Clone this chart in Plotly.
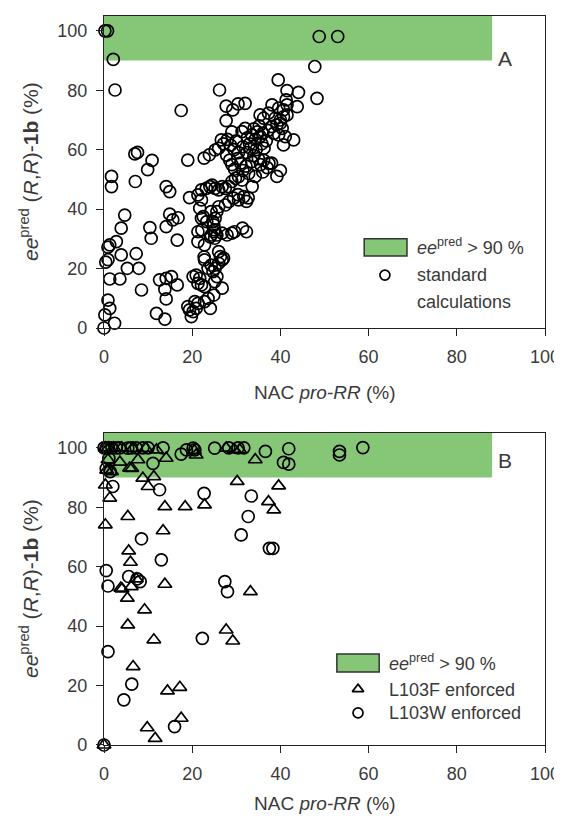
import plotly.graph_objects as go

# ---------------- Panel A: standard calculations ----------------
a_x = [0.2, 0.8, 2.1, 2.5,
       1.7, 1.7, 7.0, 7.6, 9.9, 10.9, 7.1,
       4.7, 3.9, 2.8, 1.3, 0.9, 0.9, 0.4, 3.9, 7.3, 5.3, 7.9, 1.3, 3.6, 8.5, 0.9, 1.3, 0.2, 2.4, 0.0,
       14.1, 14.9, 19.4, 10.4, 10.7, 14.9, 15.6, 16.8, 14.1, 16.6,
       12.6, 14.1, 15.3, 16.6, 13.8, 14.1, 11.9, 13.8,
       17.5, 19.0, 22.7, 23.9,
       20.2, 20.9, 21.7, 21.3, 22.8, 22.1,
       19.0, 19.4, 20.2, 19.8, 20.9, 21.3, 20.6, 23.6, 22.8, 22.7,
       22.8, 24.3, 24.7, 23.6, 25.1,
       26.0, 26.4, 26.8, 26.0, 27.1, 25.2, 25.6, 26.8, 24.9, 24.1,
       21.3, 22.1, 23.2, 24.0, 22.1, 21.7, 22.1, 21.3, 21.3, 24.3, 24.7, 25.1, 25.1, 24.3, 22.2, 22.8, 23.3, 22.5,
       24.5, 25.2, 26.0, 26.8, 27.5, 28.3, 29.0, 29.8, 30.5, 31.3, 33.6, 31.7, 30.5, 29.4, 28.3, 27.5, 26.0,
       25.6, 25.2, 24.9, 24.9, 24.1, 25.6, 26.8, 27.9, 29.0, 31.4, 30.4, 32.3, 32.7, 29.6, 32.3,
       26.6, 26.0, 25.2, 27.1, 27.8, 28.5, 29.0, 29.6, 30.3, 31.0, 31.5, 32.2, 32.8, 33.5, 34.0, 34.5,
       35.0, 35.5, 36.2, 37.0, 38.0, 39.2, 40.0, 36.0, 34.3, 37.4,
       31.3, 32.0, 32.5, 33.0, 33.5, 34.0, 34.3, 34.8, 35.2, 35.4, 35.8, 36.0, 36.3, 36.8, 37.2, 33.2,
       32.4, 31.5, 30.5, 29.5, 28.7, 28.0, 29.0, 30.0,
       35.4, 36.2, 37.3, 38.8, 40.0, 40.7, 41.5, 38.1, 39.6, 40.7, 41.5, 38.1, 39.2, 40.0, 40.4, 38.5,
       39.6, 41.1, 43.0, 40.7, 41.5, 44.1, 41.3, 43.8, 48.3, 39.5, 47.8, 27.7, 29.2, 30.4, 32.0, 27.7,
       26.2, 48.8, 53.0]
a_y = [100, 100, 90.4, 80.1,
       51.0, 47.6, 58.6, 59.1, 53.3, 56.4, 49.3,
       38.0, 33.6, 29.1, 28.0, 27.2, 23.0, 22.2, 24.6, 25.0, 20.1, 20.1, 16.5, 16.5, 12.8, 9.4, 6.6, 4.4, 1.6, 0.0,
       47.6, 45.9, 43.9, 33.8, 30.2, 38.3, 36.4, 37.1, 34.1, 29.6,
       16.2, 16.7, 17.3, 14.5, 13.0, 9.8, 4.9, 3.0,
       73.2, 56.5, 57.2, 58.3,
       17.3, 17.8, 16.7, 15.0, 13.9, 14.5,
       7.2, 6.1, 5.5, 3.8, 6.6, 8.3, 8.9, 10.0, 8.9, 23.9,
       22.9, 21.2, 19.0, 20.1, 15.6,
       25.7, 24.0, 22.9, 21.8, 23.5, 20.1, 17.3, 13.4, 11.1, 6.6,
       44.8, 46.5, 47.0, 47.6, 43.1, 40.3, 36.9, 32.4, 29.1, 39.2, 35.8, 33.0, 30.2, 31.3, 33.0, 28.0, 35.8, 37.5,
       48.1, 47.0, 46.5, 47.6, 47.0, 47.6, 49.3, 50.4, 50.9, 49.8, 47.6, 44.2, 43.1, 43.7, 42.5, 41.4, 40.8,
       39.2, 36.9, 34.7, 32.4, 30.7, 31.3, 31.9, 31.3, 31.9, 33.6, 44.9, 42.6, 43.8, 32.4, 32.4,
       63.3, 60.5, 59.9, 62.0, 58.2, 56.5, 55.0, 53.5, 57.0, 55.5, 53.0, 54.5, 52.0, 56.0, 58.0, 60.0,
       57.0, 55.0, 56.5, 54.0, 55.5, 51.0, 53.0, 52.5, 51.0, 55.4,
       66.1, 67.2, 64.0, 62.0, 65.0, 67.0, 63.5, 66.0, 68.0, 64.5, 62.0, 65.5, 60.5, 63.0, 66.5, 60.5,
       59.0, 61.0, 59.0, 60.0, 61.5, 63.5, 66.0, 63.0,
       71.7, 70.6, 72.3, 70.6, 70.0, 71.1, 71.7, 75.1, 74.0, 73.4, 75.1, 67.8, 68.4, 68.9, 67.2, 65.5,
       65.0, 64.4, 63.3, 61.6, 79.9, 79.3, 76.8, 74.5, 77.3, 83.5, 88.0, 74.7, 73.4, 75.4, 75.6, 69.8,
       80.1, 98.1, 98.1]

# ---------------- Panel B: L103F enforced (triangles) ----------------
f_x = [0.3, 1.0, 2.2, 4.0, 6.5, 9.5, 11.9, 20.5, 27.7, 29.5, 30.8,
       0.9, 1.7, 0.6, 3.6, 5.8, 7.7, 6.3, 14.1, 20.9, 34.3,
       0.3, 1.3, 0.3, 5.4, 8.8, 10.0, 11.3, 13.8, 18.4, 22.8, 30.2, 39.6, 37.3, 38.5,
       13.4, 5.6, 6.0, 3.8, 4.1, 6.2, 7.3, 5.3, 13.8, 9.2, 5.4, 11.3, 6.6, 14.4, 17.2, 17.5,
       9.8, 11.6, 0.0, 33.2, 27.7, 29.2]
f_y = [100, 100, 100, 100, 99.8, 99.8, 99.3, 99.0, 99.9, 99.5, 99.3,
       96.0, 92.0, 92.5, 95.2, 93.2, 96.0, 93.1, 96.5, 97.6, 96.0,
       87.5, 83.1, 74.1, 76.9, 89.8, 87.0, 90.3, 80.2, 80.2, 80.8, 88.7, 87.2, 81.9, 79.1,
       72.1, 65.3, 61.5, 52.8, 52.5, 53.3, 55.9, 49.4, 54.1, 45.5, 40.4, 35.4, 26.4, 18.2, 19.4, 9.0,
       5.8, 2.2, 0.0, 51.6, 38.7, 35.0]

# ---------------- Panel B: L103W enforced (circles) ----------------
w_x = [0.0, 0.5, 1.0, 1.8, 2.8, 3.6, 5.4, 6.2, 7.3, 8.8, 10.0, 13.4, 17.5, 18.7, 20.2, 20.6,
       25.1, 28.3, 30.4, 31.7, 36.6, 41.9, 40.7, 41.9, 53.4, 53.4, 58.7, 1.1, 1.4, 11.1, 0.5,
       2.0, 12.6, 22.7, 33.4, 32.7, 31.1, 37.5, 38.3, 8.5, 13.0, 0.5, 0.9, 5.6, 7.5, 8.2,
       27.4, 28.0, 22.3, 0.9, 6.3, 4.5, 16.0, 0.0]
w_y = [100, 100, 100, 100, 100, 100, 99.9, 100, 100, 100, 100, 100, 97.9, 99.3, 99.9, 99.3,
       99.9, 100, 100, 100, 98.8, 99.7, 95.1, 94.5, 98.8, 97.6, 100.1, 96.5, 92.0, 94.8, 93.0,
       87.0, 85.9, 84.7, 83.8, 76.9, 70.7, 66.2, 66.2, 69.4, 62.3, 58.7, 53.5, 56.7, 55.9, 55.0,
       55.0, 51.6, 35.9, 31.4, 20.5, 15.2, 6.2, 0.0]

ticks = [0, 20, 40, 60, 80, 100]
threshold = 90
green_end = 88

GREEN = "#86c777"
TXT = "#3a3a3a"
FONT = "Liberation Sans, Arial, sans-serif"

circle = dict(symbol="circle-open", size=12, color="black", line=dict(width=1.7, color="black"))
tri = dict(symbol="triangle-up-open", size=12, color="black", line=dict(width=1.7, color="black"))

fig = go.Figure()
fig.add_trace(go.Scatter(x=a_x, y=a_y, mode="markers", marker=circle, xaxis="x", yaxis="y",
                         cliponaxis=False, showlegend=False))
fig.add_trace(go.Scatter(x=f_x, y=f_y, mode="markers", marker=tri, xaxis="x2", yaxis="y2",
                         cliponaxis=False, showlegend=False))
fig.add_trace(go.Scatter(x=w_x, y=w_y, mode="markers", marker=circle, xaxis="x2", yaxis="y2",
                         cliponaxis=False, showlegend=False))

# manual legends (marker glyphs)
small_c = dict(symbol="circle-open", size=10, color="black", line=dict(width=1.7, color="black"))
small_t = dict(symbol="triangle-up-open", size=10, color="black", line=dict(width=1.7, color="black"))
fig.add_trace(go.Scatter(x=[63.7], y=[17.8], mode="markers", marker=small_c, xaxis="x", yaxis="y",
                         showlegend=False, hoverinfo="skip"))
fig.add_trace(go.Scatter(x=[57.6], y=[18.8], mode="markers", marker=small_t, xaxis="x2", yaxis="y2",
                         showlegend=False, hoverinfo="skip"))
fig.add_trace(go.Scatter(x=[57.6], y=[10.8], mode="markers", marker=small_c, xaxis="x2", yaxis="y2",
                         showlegend=False, hoverinfo="skip"))

shapes = [
    dict(type="rect", xref="x", yref="y", x0=0, x1=green_end, y0=threshold, y1=105,
         fillcolor=GREEN, line=dict(width=0), layer="below"),
    dict(type="rect", xref="x2", yref="y2", x0=0, x1=green_end, y0=threshold, y1=105,
         fillcolor=GREEN, line=dict(width=0), layer="below"),
    dict(type="rect", xref="x", yref="y", x0=59.0, x1=68.7, y0=24.2, y1=30.0,
         fillcolor=GREEN, line=dict(width=1.5, color="#333333")),
    dict(type="rect", xref="x2", yref="y2", x0=52.8, x1=62.4, y0=24.6, y1=30.6,
         fillcolor=GREEN, line=dict(width=1.5, color="#333333")),
]

lf = dict(family=FONT, size=18, color=TXT)
annotations = [
    dict(xref="x", yref="y", x=70.5, y=27.3, xanchor="left", yanchor="middle", showarrow=False,
         text="<i>ee</i><sup>pred</sup> &gt; 90 %", font=lf),
    dict(xref="x", yref="y", x=70.5, y=17.8, xanchor="left", yanchor="middle", showarrow=False,
         text="standard", font=lf),
    dict(xref="x", yref="y", x=70.5, y=8.8, xanchor="left", yanchor="middle", showarrow=False,
         text="calculations", font=lf),
    dict(xref="x2", yref="y2", x=64.2, y=27.9, xanchor="left", yanchor="middle", showarrow=False,
         text="<i>ee</i><sup>pred</sup> &gt; 90 %", font=lf),
    dict(xref="x2", yref="y2", x=64.2, y=18.5, xanchor="left", yanchor="middle", showarrow=False,
         text="L103F enforced", font=lf),
    dict(xref="x2", yref="y2", x=64.2, y=10.8, xanchor="left", yanchor="middle", showarrow=False,
         text="L103W enforced", font=lf),
    # panel letters
    dict(xref="paper", yref="paper", x=0.930, y=0.960, showarrow=False, text="A",
         font=dict(family=FONT, size=21, color=TXT)),
    dict(xref="paper", yref="paper", x=0.930, y=0.390, showarrow=False, text="B",
         font=dict(family=FONT, size=21, color=TXT)),
]

ytitle = "<i>ee</i><sup>pred</sup> (<i>R</i>,<i>R</i>)-<b>1b</b> (%)"
xtitle = "NAC <i>pro-RR</i> (%)"
tf = dict(family=FONT, size=19, color=TXT)
tfy = dict(family=FONT, size=21, color=TXT)
for yc in (0.786, 0.214):
    annotations.append(dict(xref="paper", yref="paper", x=-0.170, y=yc, textangle=-90,
                            showarrow=False, text=ytitle, font=tfy, xanchor="center", yanchor="middle"))
for yc in (0.483, -0.0796):
    annotations.append(dict(xref="paper", yref="paper", x=0.5, y=yc, showarrow=False,
                            text=xtitle, font=tf, xanchor="center", yanchor="middle"))

axis_common = dict(range=[0, 100], tickvals=ticks, ticks="outside", ticklen=7, tickwidth=1.3,
                   tickcolor="#222", showline=True, linecolor="#222", linewidth=1.4, mirror=True,
                   showgrid=False, zeroline=False, automargin=False, ticklabelstandoff=5,
                   tickfont=dict(family=FONT, size=18, color=TXT))
yaxis_common = dict(axis_common)
yaxis_common["range"] = [0, 105]
yaxis_common["ticklabelstandoff"] = 5

# the page body adds an 8 px offset, compensated in the margins
fig.update_layout(
    width=562, height=825,
    margin=dict(l=96, r=25, t=8, b=88),
    paper_bgcolor="white", plot_bgcolor="white",
    showlegend=False,
    xaxis=dict(axis_common, domain=[0, 1], anchor="y"),
    yaxis=dict(yaxis_common, domain=[0.572, 1], anchor="x"),
    xaxis2=dict(axis_common, domain=[0, 1], anchor="y2"),
    yaxis2=dict(yaxis_common, domain=[0, 0.428], anchor="x2"),
    shapes=shapes,
    annotations=annotations,
)

fig.write_html("out.html")
